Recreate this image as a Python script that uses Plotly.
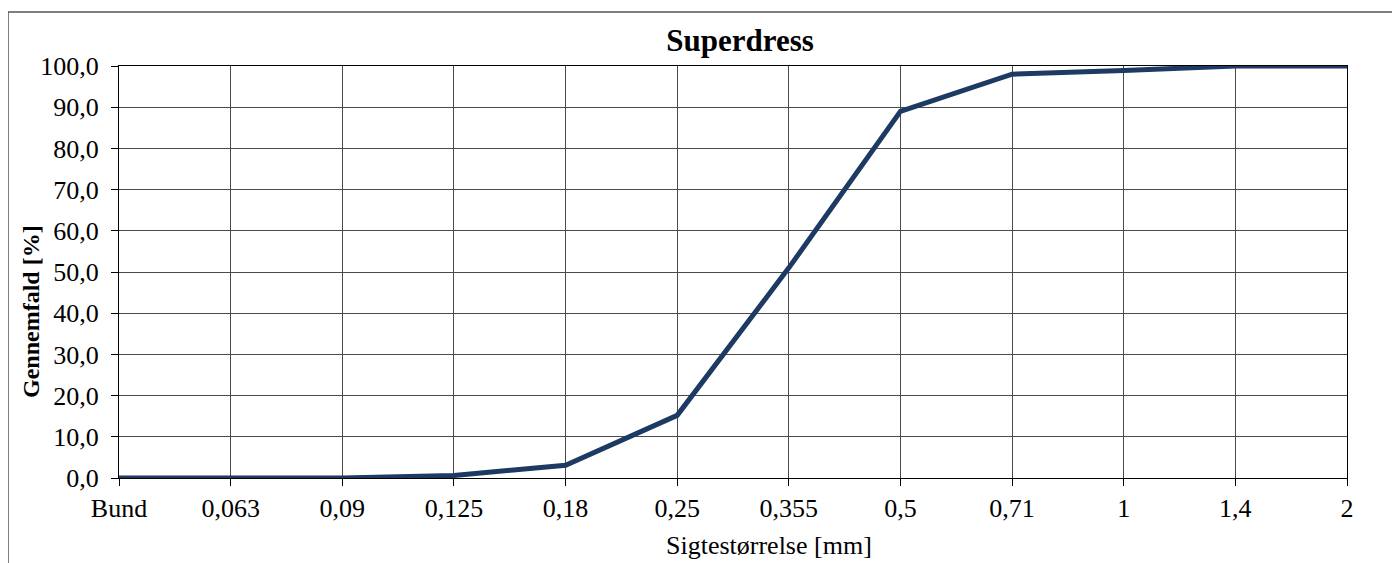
import plotly.graph_objects as go

categories = ["Bund", "0,063", "0,09", "0,125", "0,18", "0,25", "0,355", "0,5", "0,71", "1", "1,4", "2"]
passing = [0.0, 0.0, 0.0, 0.6, 3.1, 15.2, 51.0, 89.0, 98.0, 98.9, 100.0, 100.0]
y_ticks = [0, 10, 20, 30, 40, 50, 60, 70, 80, 90, 100]
y_ticklabels = ["0,0", "10,0", "20,0", "30,0", "40,0", "50,0", "60,0", "70,0", "80,0", "90,0", "100,0"]

# page has an 8px body margin; target screen coords of plot area: x 119..1347, y 66..478
OFF = 8
W, H = 1400 - OFF, 563 - OFF
L, R, T, B = 119 - OFF, 53, 66 - OFF, 85
pw, ph = W - L - R, H - T - B
font = "Liberation Serif"

xs = list(range(len(categories)))

fig = go.Figure()
fig.add_trace(go.Scatter(
    x=xs, y=passing, mode="lines",
    line=dict(color="#1d3a62", width=5),
    showlegend=False, hoverinfo="skip",
))

fig.update_layout(
    width=W, height=H,
    margin=dict(l=L, r=R, t=T, b=B, pad=0),
    paper_bgcolor="white", plot_bgcolor="white",
    font=dict(family=font, size=26, color="black"),
    title=dict(text="<b>Superdress</b>", x=(740 - OFF) / W, xanchor="center",
               y=1 - (40 - OFF) / H, yanchor="middle",
               font=dict(family=font, size=31, color="black")),
    xaxis=dict(
        range=[0, len(categories) - 1],
        tickmode="array", tickvals=xs, ticktext=categories,
        showgrid=True, gridcolor="#4a4a4a", gridwidth=1,
        showline=True, linecolor="black", linewidth=1, mirror=True,
        ticks="outside", ticklen=7, tickcolor="black",
        zeroline=False,
        tickfont=dict(size=26),
    ),
    yaxis=dict(
        range=[0, 100],
        tickmode="array", tickvals=y_ticks, ticktext=y_ticklabels,
        showgrid=True, gridcolor="#4a4a4a", gridwidth=1,
        showline=True, linecolor="black", linewidth=1, mirror=True,
        ticks="outside", ticklen=7, tickcolor="black",
        ticklabelstandoff=7,
        zeroline=False,
        tickfont=dict(size=26),
    ),
)

# x-axis title, placed as in the reference
fig.add_annotation(
    text="Sigtestørrelse [mm]",
    xref="paper", yref="paper",
    x=(769 - 119) / pw, y=-(545 - 478) / ph,
    xanchor="center", yanchor="middle", showarrow=False,
    font=dict(family=font, size=26, color="black"),
)

# y-axis title placed as in the reference (slightly below centre)
fig.add_annotation(
    text="<b>Gennemfald [%]</b>", textangle=-90,
    xref="paper", yref="paper",
    x=(31 - 119) / pw, y=(478 - 312) / ph,
    xanchor="center", yanchor="middle", showarrow=False,
    font=dict(family=font, size=24, color="black"),
)

# outer chart-area border (top and left edges visible)
fig.add_shape(
    type="rect", xref="paper", yref="paper",
    x0=(8 - 119) / pw, x1=(1420 - 119) / pw,
    y0=-(B + 20) / ph, y1=(478 - 12) / ph,
    line=dict(color="#555555", width=1.5), fillcolor="rgba(0,0,0,0)",
    layer="below",
)

fig.write_html("out.html")
